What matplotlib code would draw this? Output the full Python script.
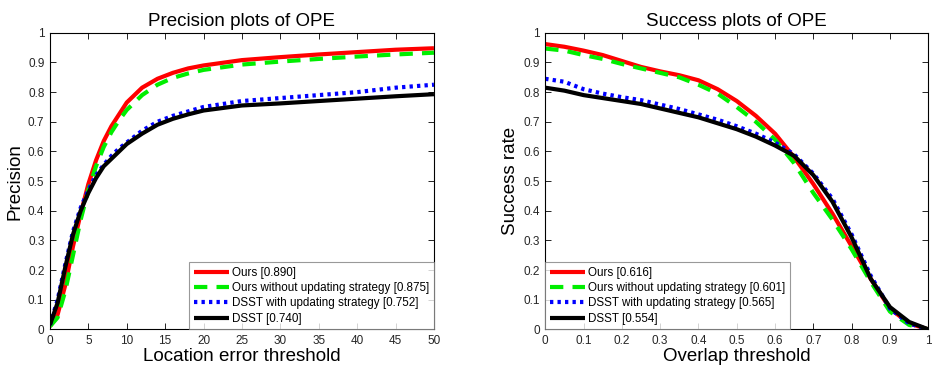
import matplotlib
matplotlib.use("Agg")
import matplotlib.pyplot as plt

plt.rcParams['font.family'] = ['Liberation Sans', 'DejaVu Sans']

# === Precision data (location error threshold) ===
prec_x = [0, 1, 2, 3, 4, 5, 6, 7, 8, 9, 10, 12, 14, 16, 18, 20, 25, 30, 35, 40, 45, 50]
prec_ours = [0.01, 0.05, 0.15, 0.28, 0.39, 0.49, 0.57, 0.635, 0.685, 0.725, 0.765, 0.815, 0.845, 0.865,
             0.88, 0.89, 0.908, 0.918, 0.927, 0.935, 0.943, 0.948]
prec_ours_noupd = [0.01, 0.04, 0.13, 0.25, 0.37, 0.47, 0.55, 0.615, 0.665, 0.705, 0.74, 0.79, 0.825, 0.848,
                   0.863, 0.875, 0.893, 0.903, 0.912, 0.92, 0.927, 0.933]
prec_dsst_upd = [0.015, 0.10, 0.22, 0.33, 0.41, 0.47, 0.52, 0.555, 0.585, 0.61, 0.63, 0.67, 0.70, 0.72,
                 0.735, 0.75, 0.77, 0.78, 0.79, 0.80, 0.815, 0.825]
prec_dsst = [0.015, 0.09, 0.21, 0.32, 0.40, 0.46, 0.51, 0.55, 0.575, 0.60, 0.625, 0.66, 0.69, 0.71,
             0.725, 0.738, 0.755, 0.762, 0.77, 0.778, 0.786, 0.793]

# === Success data (overlap threshold) ===
succ_x = [0, 0.05, 0.1, 0.15, 0.2, 0.25, 0.3, 0.35, 0.4, 0.45, 0.5, 0.55, 0.6, 0.65, 0.7,
          0.75, 0.8, 0.85, 0.9, 0.95, 1.0]
succ_ours = [0.962, 0.953, 0.94, 0.925, 0.905, 0.885, 0.87, 0.857, 0.84, 0.81, 0.77, 0.72, 0.66,
             0.58, 0.49, 0.39, 0.28, 0.17, 0.07, 0.02, 0.0]
succ_ours_noupd = [0.947, 0.94, 0.925, 0.912, 0.895, 0.88, 0.865, 0.85, 0.825, 0.795, 0.75, 0.70,
                   0.64, 0.56, 0.46, 0.37, 0.27, 0.16, 0.06, 0.015, 0.0]
succ_dsst_upd = [0.845, 0.835, 0.81, 0.795, 0.783, 0.773, 0.758, 0.743, 0.725, 0.707, 0.685, 0.66,
                 0.63, 0.59, 0.525, 0.44, 0.32, 0.18, 0.07, 0.02, 0.0]
succ_dsst = [0.815, 0.805, 0.79, 0.78, 0.77, 0.76, 0.745, 0.73, 0.715, 0.695, 0.675, 0.65, 0.62,
             0.585, 0.52, 0.43, 0.31, 0.17, 0.075, 0.025, 0.0]

prec_labels = ['Ours [0.890]', 'Ours without updating strategy [0.875]',
               'DSST with updating strategy [0.752]', 'DSST [0.740]']
succ_labels = ['Ours [0.616]', 'Ours without updating strategy [0.601]',
               'DSST with updating strategy [0.565]', 'DSST [0.554]']

styles = [
    dict(color='#ff0000', lw=3, ls='-'),
    dict(color='#00ee00', lw=3, ls=(0, (3.2, 2.2))),
    dict(color='#0000ff', lw=3, ls=(0, (0.8, 1.0))),
    dict(color='#000000', lw=3, ls='-'),
]


def style_axes(ax, xlim, xticks, xticklabels, xlabel, ylabel, title):
    ax.set_xlim(*xlim)
    ax.set_ylim(0, 1)
    ax.set_xticks(xticks)
    ax.set_xticklabels(xticklabels)
    yt = [i / 10 for i in range(11)]
    ax.set_yticks(yt)
    ax.set_yticklabels(['0'] + ['%.1f' % v for v in yt[1:-1]] + ['1'])
    ax.tick_params(direction='in', top=True, right=True, length=4, width=0.6,
                   labelsize=8.5, labelcolor='#262626', pad=4)
    for s in ax.spines.values():
        s.set_linewidth(0.8)
    ax.set_xlabel(xlabel, fontsize=13.5, labelpad=1)
    ax.set_ylabel(ylabel, fontsize=13.5, labelpad=3)
    ax.set_title(title, fontsize=13.5, pad=5)


def add_legend(ax, loc):
    leg = ax.legend(loc=loc, fontsize=8.4, borderaxespad=0, fancybox=False,
                    edgecolor='#808080', handlelength=3.0, handletextpad=0.25,
                    labelspacing=0.28, borderpad=0.4)
    leg.get_frame().set_linewidth(0.8)
    return leg


fig = plt.figure(figsize=(9.32, 3.73), dpi=100)
ax1 = fig.add_axes([0.0536, 0.117, 0.412, 0.795])
ax2 = fig.add_axes([0.585, 0.117, 0.411, 0.795])

# === Precision plot ===
for ys, st, lab in zip([prec_ours, prec_ours_noupd, prec_dsst_upd, prec_dsst], styles, prec_labels):
    ax1.plot(prec_x, ys, label=lab, solid_capstyle='butt', dash_capstyle='butt', **st)
style_axes(ax1, (0, 50), list(range(0, 51, 5)), [str(v) for v in range(0, 51, 5)],
           'Location error threshold', 'Precision', 'Precision plots of OPE')
add_legend(ax1, 'lower right')

# === Success plot ===
for ys, st, lab in zip([succ_ours, succ_ours_noupd, succ_dsst_upd, succ_dsst], styles, succ_labels):
    ax2.plot(succ_x, ys, label=lab, solid_capstyle='butt', dash_capstyle='butt', **st)
style_axes(ax2, (0, 1), [i / 10 for i in range(11)],
           ['0'] + ['%.1f' % (i / 10) for i in range(1, 10)] + ['1'],
           'Overlap threshold', 'Success rate', 'Success plots of OPE')
add_legend(ax2, 'lower left')

fig.savefig('out.png', dpi=100)
plt.close(fig)
